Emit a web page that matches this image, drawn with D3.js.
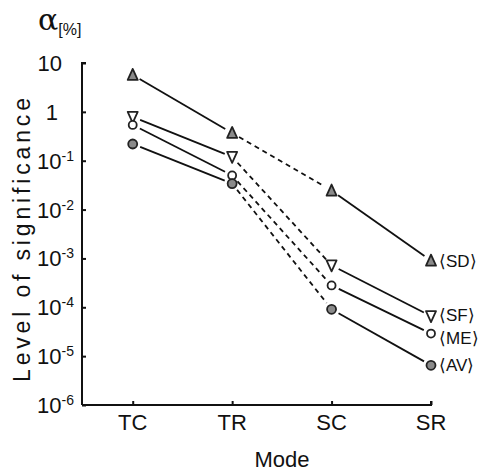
<!DOCTYPE html>
<html><head><meta charset="utf-8">
<script src="https://cdn.jsdelivr.net/npm/d3@7"></script>
<style>body{margin:0;background:#fff}svg{display:block}text{font-family:"Liberation Sans",Arial,sans-serif;fill:#111}</style>
</head><body><svg id="c" width="491" height="473"></svg>
<script>
const categories = ["TC", "TR", "SC", "SR"];
const seriesNames = ["SD", "SF", "ME", "AV"];
const sdValues = [5.7, 0.37, 0.0245, 9.0e-4];
const sfValues = [0.79, 0.12, 7.2e-4, 6.6e-5];
const meValues = [0.54, 0.05, 2.8e-4, 2.9e-5];
const avValues = [0.22, 0.034, 9.1e-5, 6.5e-6];
const segmentDashed = [false, true, false];
const yTickValues = [10, 1, 1e-1, 1e-2, 1e-3, 1e-4, 1e-5, 1e-6];
const yTickBase = ["10", "1", "10", "10", "10", "10", "10", "10"];
const yTickExp = ["", "", "-1", "-2", "-3", "-4", "-5", "-6"];

const svg = d3.select("#c");
const x = d3.scaleLinear().domain([-0.51, 3]).range([82, 431]);
const y = d3.scaleLog().domain([1e-6, 10]).range([405, 63]);

const series = [
  {name: seriesNames[0], values: sdValues, shape: "triUp", fill: "#8a8a8a", labelDy: 0},
  {name: seriesNames[1], values: sfValues, shape: "triDown", fill: "#fff", labelDy: -1},
  {name: seriesNames[2], values: meValues, shape: "circle", fill: "#fff", labelDy: 4},
  {name: seriesNames[3], values: avValues, shape: "circle", fill: "#8a8a8a", labelDy: 0}
];

// axes
const gy = svg.append("g").attr("transform", "translate(82,0)");
gy.call(d3.axisRight(y).tickValues(yTickValues).tickSize(4).tickFormat(""));
gy.select(".domain").attr("d", `M4,${y(10)}H0V${y(1e-6)}`);
gy.selectAll("line,path").attr("stroke", "#111").attr("stroke-width", 2);

const gx = svg.append("g").attr("transform", "translate(0,405)");
gx.call(d3.axisTop(x).tickValues([0, 1, 2, 3]).tickSize(4).tickFormat(""));
gx.select(".domain").attr("d", `M82,0H${x(3)}V-4`);
gx.selectAll("line,path").attr("stroke", "#111").attr("stroke-width", 2);

// y tick labels
yTickValues.forEach((v, i) => {
  const t = svg.append("text").attr("y", y(v) + 8).attr("font-size", 22);
  if (yTickExp[i] === "") {
    t.attr("x", v === 1 ? 58 : 62).attr("text-anchor", "end").text(yTickBase[i]);
  } else {
    t.attr("x", 37);
    t.append("tspan").text(yTickBase[i]);
    t.append("tspan").attr("dy", -8).attr("font-size", 14).text(yTickExp[i]);
  }
});

// category labels
categories.forEach((c, i) => {
  svg.append("text").attr("x", x(i)).attr("y", 430).attr("text-anchor", "middle")
    .attr("font-size", 22).text(c);
});

svg.append("text").attr("x", 282).attr("y", 467).attr("text-anchor", "middle")
  .attr("font-size", 22).text("Mode");

svg.append("text").attr("transform", "translate(30,240) rotate(-90)")
  .attr("text-anchor", "middle").attr("font-size", 23)
  .attr("textLength", 284).attr("lengthAdjust", "spacing").text("Level of significance");

const title = svg.append("text").attr("x", 38).attr("y", 30);
title.append("tspan").attr("font-size", 30).attr("font-family", "DejaVu Serif, serif").text("α");
title.append("tspan").attr("font-size", 16).attr("dy", 5).text("[%]");

// lines
const gap = 8;
series.forEach(s => {
  for (let i = 0; i < 3; i++) {
    const x1 = x(i), y1 = y(s.values[i]), x2 = x(i + 1), y2 = y(s.values[i + 1]);
    const L = Math.hypot(x2 - x1, y2 - y1), ux = (x2 - x1) / L, uy = (y2 - y1) / L;
    svg.append("line")
      .attr("x1", x1 + ux * gap).attr("y1", y1 + uy * gap)
      .attr("x2", x2 - ux * gap).attr("y2", y2 - uy * gap)
      .attr("stroke", "#111").attr("stroke-width", 1.8)
      .attr("stroke-dasharray", segmentDashed[i] ? "5,4" : null);
  }
});

// markers
series.forEach(s => {
  s.values.forEach((v, i) => {
    const cx = x(i), cy = y(v);
    if (s.shape === "circle") {
      svg.append("circle").attr("cx", cx).attr("cy", cy).attr("r", s.fill === "#fff" ? 4 : 4.5)
        .attr("fill", s.fill).attr("stroke", "#222").attr("stroke-width", 1.8);
    } else {
      const h = 10, w = 10;
      const pts = s.shape === "triUp"
        ? [[cx, cy - h / 2 - 1], [cx - w / 2, cy + h / 2], [cx + w / 2, cy + h / 2]]
        : [[cx, cy + h / 2 + 1], [cx - w / 2, cy - h / 2], [cx + w / 2, cy - h / 2]];
      svg.append("polygon").attr("points", pts.map(p => p.join(",")).join(" "))
        .attr("fill", s.fill).attr("stroke", "#222").attr("stroke-width", 1.8)
        .attr("stroke-linejoin", "round");
    }
  });
  svg.append("text").attr("x", 439).attr("y", y(s.values[3]) + 6 + s.labelDy).attr("font-size", 17)
    .text("⟨" + s.name + "⟩");
});
</script></body></html>
